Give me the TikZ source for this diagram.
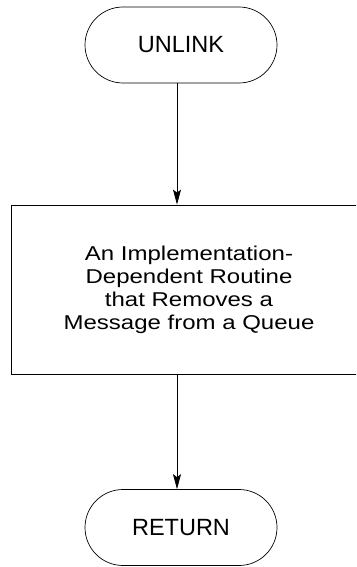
\documentclass[tikz,border=0pt]{standalone}
\usepackage{fontspec}
\setmainfont{Liberation Sans}
\newfontfamily\widesans[FakeStretch=1.2]{Liberation Sans}
\usepackage{tikz}
\usetikzlibrary{positioning, arrows.meta}

\begin{document}
\begin{tikzpicture}[
  x=1pt, y=-1pt,
  term/.style={draw, line width=0.7pt, rounded corners=38pt,
               minimum width=192pt, minimum height=76pt,
               font=\fontsize{23.5}{26}\selectfont},
  proc/.style={draw, line width=0.8pt, minimum width=356pt,
               minimum height=169pt, align=center,
               font=\widesans\fontsize{20}{23}\selectfont},
  arr/.style={-{Stealth[length=15pt, width=8pt, inset=3pt]}, line width=0.8pt}
]
\useasboundingbox (0,0) rectangle (356,567);
\clip (0,0) rectangle (356,567);
% terminals
\node[term] (unlink) at (181,45) {UNLINK};
\node[term] (ret) at (181,527.5) {RETURN};
% routine
\node[proc] (rout) at (189,289.5) {An Implementation-\\Dependent Routine\\
      that Removes a\hspace*{18pt}\\Message from a Queue};
% flow
\draw[arr] ([xshift=-4pt]unlink.south) -- ([xshift=-4pt]unlink.south |- rout.north);
\draw[arr] ([xshift=-4pt]unlink.south |- rout.south) -- ([xshift=-4pt]ret.north);
\end{tikzpicture}
\end{document}
